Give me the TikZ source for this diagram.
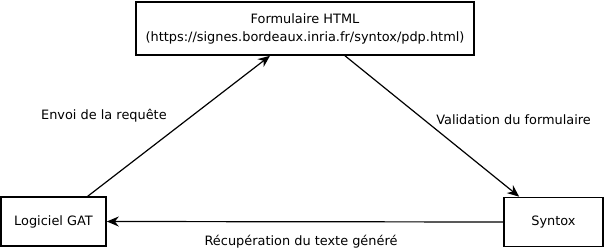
\documentclass[tikz,border=0pt]{standalone}
\usepackage{fontspec}
\setmainfont{DejaVu Sans}
\usetikzlibrary{arrows.meta,positioning}

\tikzset{
    bloc/.style={draw, line width=1.6pt, align=center, font=\fontsize{12.9}{18}\selectfont},
    fleche/.style={line width=1.2pt, -{Stealth[length=12pt,width=10pt]}},
    etiquette/.style={font=\fontsize{12.9}{15}\selectfont}
}

\begin{document}
\begin{tikzpicture}[x=1pt,y=1pt]

    \useasboundingbox (0,0) rectangle (606,252);

    % les trois blocs
    \node[bloc, minimum width=338pt, minimum height=53pt] (form) at (305,223.5)
        {Formulaire HTML\\(https://signes.bordeaux.inria.fr/syntox/pdp.html)};
    \node[bloc, minimum width=105pt, minimum height=49pt] (gat) at (53.5,30.5) {Logiciel GAT};
    \node[bloc, minimum width=99pt, minimum height=49pt] (syntox) at (553.5,30) {Syntox};

    % les liens
    \draw[fleche] ([xshift=-19pt]gat.north east) -- ([xshift=-35pt]form.south)
        node[etiquette, pos=0.57, left=21pt] (envoi) {Envoi de la requête};
    \draw[fleche] ([xshift=40pt]form.south) -- ([xshift=16pt]syntox.north west)
        node[etiquette, pos=0.45, right=9pt] (valid) {Validation du formulaire};
    \draw[fleche] (syntox.west) -- (gat.east)
        node[etiquette, pos=0.51, below=10pt] (recup) {Récupération du texte généré};

\end{tikzpicture}
\end{document}
